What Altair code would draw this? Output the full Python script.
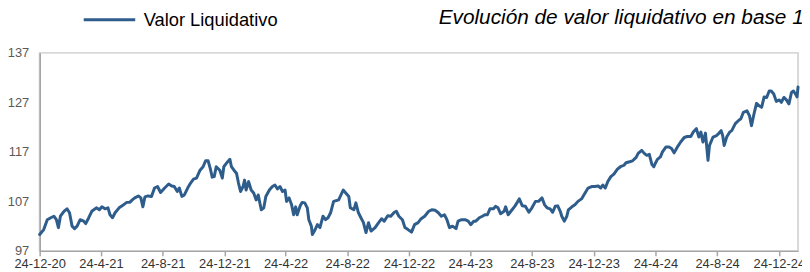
import altair as alt
import pandas as pd

# ---- data ----
dates_2021 = ["2020-12-24","2021-01-01","2021-01-08","2021-01-15","2021-01-21","2021-01-26","2021-01-30","2021-02-03","2021-02-10","2021-02-16",
              "2021-02-21","2021-02-26","2021-03-03","2021-03-08","2021-03-14","2021-03-21","2021-03-25","2021-03-31","2021-04-06","2021-04-15",
              "2021-04-21","2021-04-26","2021-05-02","2021-05-08","2021-05-12","2021-05-17","2021-05-22","2021-05-30","2021-06-05","2021-06-14",
              "2021-06-20","2021-06-25","2021-06-30","2021-07-07","2021-07-12","2021-07-16","2021-07-20","2021-07-26","2021-08-02","2021-08-08",
              "2021-08-14","2021-08-20","2021-08-28","2021-09-05","2021-09-11","2021-09-16","2021-09-22","2021-09-26","2021-10-01","2021-10-06",
              "2021-10-13","2021-10-19","2021-10-24","2021-10-30","2021-11-06","2021-11-12","2021-11-17","2021-11-22","2021-11-27","2021-11-30",
              "2021-12-04","2021-12-08","2021-12-15","2021-12-20","2021-12-23","2021-12-28"]
values_2021 = [100.3, 101.3, 103.3, 103.7, 104.0, 103.3, 101.7, 104.0, 105.0, 105.5,
               104.7, 102.0, 101.5, 102.0, 103.3, 103.0, 102.5, 103.7, 105.0, 105.7,
               105.3, 105.9, 105.5, 105.7, 104.3, 103.7, 104.7, 105.7, 106.1, 106.8,
               106.8, 107.3, 107.7, 108.1, 107.7, 105.9, 107.9, 108.1, 108.0, 109.7,
               110.0, 108.8, 109.7, 110.5, 110.1, 110.0, 109.0, 109.7, 108.0, 108.3,
               109.8, 110.8, 111.5, 111.7, 113.3, 114.0, 115.2, 115.2, 113.3, 111.9,
               112.0, 114.0, 113.3, 111.7, 114.0, 114.7]

dates_2022 = ["2022-01-04","2022-01-07","2022-01-12","2022-01-17","2022-01-21","2022-01-25","2022-01-30","2022-02-02","2022-02-05","2022-02-10",
              "2022-02-15","2022-02-20","2022-02-25","2022-03-01","2022-03-07","2022-03-12","2022-03-16","2022-03-23","2022-03-29","2022-04-03",
              "2022-04-08","2022-04-13","2022-04-18","2022-04-23","2022-04-26","2022-05-01","2022-05-06","2022-05-10","2022-05-14","2022-05-17",
              "2022-05-23","2022-05-27","2022-06-01","2022-06-06","2022-06-09","2022-06-14","2022-06-16","2022-06-20","2022-06-26","2022-07-01",
              "2022-07-07","2022-07-12","2022-07-17","2022-07-22","2022-07-28","2022-08-07","2022-08-16","2022-08-21","2022-08-27","2022-08-30",
              "2022-09-06","2022-09-10","2022-09-15","2022-09-20","2022-09-25","2022-09-30","2022-10-05","2022-10-10","2022-10-18","2022-10-25",
              "2022-10-31","2022-11-05","2022-11-12","2022-11-18","2022-11-25","2022-11-29","2022-12-04","2022-12-11","2022-12-16","2022-12-22",
              "2022-12-29"]
values_2022 = [115.5, 114.0, 113.3, 112.7, 110.7, 109.0, 110.0, 111.3, 109.3, 111.0,
               109.3, 108.7, 107.3, 108.3, 105.3, 105.7, 108.0, 109.3, 110.0, 110.3,
               109.5, 110.0, 109.0, 109.3, 107.0, 107.7, 106.3, 104.3, 105.9, 104.3,
               106.1, 106.8, 106.7, 105.7, 103.3, 102.0, 100.3, 101.0, 102.3, 101.7,
               104.0, 103.3, 103.7, 104.7, 107.0, 107.3, 109.3, 108.7, 108.0, 105.7,
               105.3, 106.7, 104.7, 103.7, 102.7, 100.7, 102.7, 101.0, 101.7, 102.7,
               103.5, 103.0, 104.1, 104.0, 104.8, 105.0, 104.0, 103.3, 101.7, 101.3,
               100.8]

dates_2023 = ["2023-01-04","2023-01-11","2023-01-17","2023-01-24","2023-02-01","2023-02-07","2023-02-14","2023-02-20","2023-02-26","2023-03-04",
              "2023-03-09","2023-03-14","2023-03-20","2023-03-27","2023-03-31","2023-04-07","2023-04-14","2023-04-20","2023-04-25","2023-05-01",
              "2023-05-05","2023-05-12","2023-05-18","2023-05-23","2023-05-28","2023-06-02","2023-06-09","2023-06-13","2023-06-18","2023-06-23",
              "2023-06-30","2023-07-03","2023-07-08","2023-07-15","2023-07-21","2023-07-26","2023-07-30","2023-08-05","2023-08-11","2023-08-18",
              "2023-08-24","2023-08-31","2023-09-06","2023-09-13","2023-09-18","2023-09-23","2023-09-29","2023-10-04","2023-10-09","2023-10-14",
              "2023-10-19","2023-10-22","2023-10-27","2023-11-01","2023-11-04","2023-11-11","2023-11-17","2023-11-23","2023-11-30","2023-12-07",
              "2023-12-13","2023-12-20","2023-12-26"]
values_2023 = [102.3, 102.7, 103.5, 104.0, 105.0, 105.3, 105.2, 104.7, 104.0, 104.3,
               103.3, 101.7, 102.0, 101.5, 103.0, 103.3, 103.3, 103.0, 102.3, 103.0,
               103.0, 103.7, 104.0, 104.3, 104.3, 105.5, 105.5, 106.0, 105.7, 104.5,
               105.0, 105.9, 104.3, 105.2, 106.0, 106.8, 107.5, 106.1, 106.0, 104.8,
               105.7, 107.0, 107.0, 107.7, 106.3, 105.7, 105.5, 104.8, 106.0, 106.1,
               105.0, 104.0, 103.0, 104.0, 105.3, 105.9, 106.3, 107.0, 107.5, 108.7,
               109.7, 110.0, 110.0]

dates_2024 = ["2024-01-02","2024-01-07","2024-01-11","2024-01-16","2024-01-21","2024-01-27","2024-02-02","2024-02-09","2024-02-15","2024-02-22",
              "2024-02-26","2024-03-04","2024-03-10","2024-03-17","2024-03-21","2024-03-28","2024-04-02","2024-04-07","2024-04-12","2024-04-17",
              "2024-04-21","2024-04-24","2024-04-28","2024-05-04","2024-05-08","2024-05-15","2024-05-21","2024-05-26","2024-05-31","2024-06-06",
              "2024-06-13","2024-06-20","2024-06-26","2024-07-03","2024-07-08","2024-07-14","2024-07-19","2024-07-23","2024-07-27","2024-08-01",
              "2024-08-06","2024-08-09","2024-08-16","2024-08-23","2024-08-27","2024-09-01","2024-09-04","2024-09-07","2024-09-12","2024-09-18",
              "2024-09-22","2024-09-29","2024-10-05","2024-10-10","2024-10-15","2024-10-22","2024-10-27","2024-10-31","2024-11-05","2024-11-10",
              "2024-11-15","2024-11-20","2024-11-25","2024-11-30","2024-12-05","2024-12-09","2024-12-14","2024-12-19","2024-12-25","2024-12-29"]
values_2024 = [110.1, 109.7, 110.3, 109.7, 111.0, 112.0, 112.5, 113.5, 114.0, 114.3,
               114.8, 115.0, 115.2, 115.9, 116.7, 117.3, 116.7, 116.3, 116.5, 114.5,
               114.0, 114.7, 115.5, 116.0, 117.0, 118.0, 118.0, 117.7, 116.8, 117.9,
               119.0, 119.9, 120.1, 120.1, 121.0, 121.7, 120.0, 121.0, 119.0, 120.8,
               115.3, 118.3, 120.0, 120.3, 120.7, 121.3, 120.3, 118.3, 120.0, 121.0,
               121.3, 122.7, 123.3, 123.7, 125.0, 125.3, 124.3, 122.3, 124.7, 126.8,
               126.3, 126.0, 128.1, 128.0, 129.3, 129.3, 128.7, 127.2, 127.5, 127.0]

dates_2025 = ["2025-01-03","2025-01-08","2025-01-13","2025-01-18","2025-01-22","2025-01-26","2025-01-29","2025-01-31"]
values_2025 = [128.0, 127.5, 126.7, 129.0, 129.3, 128.7, 128.1, 130.1]

series_name = "Valor Liquidativo"
title_text = "Evolución de valor liquidativo en base 100"
y_ticks = [97, 107, 117, 127, 137]
x_tick_months = [(2020, 12), (2021, 4), (2021, 8), (2021, 12), (2022, 4), (2022, 8), (2022, 12),
                 (2023, 4), (2023, 8), (2023, 12), (2024, 4), (2024, 8), (2024, 12)]

dates = dates_2021 + dates_2022 + dates_2023 + dates_2024 + dates_2025
values = values_2021 + values_2022 + values_2023 + values_2024 + values_2025
assert len(dates) == len(values), (len(dates), len(values))

df = pd.DataFrame({"fecha": dates, "valor": values, "serie": series_name})

FONT = "Liberation Sans"
LINE = "#2E5D8C"

x_vals = [alt.DateTime(year=y, month=m, date=24, utc=True) for (y, m) in x_tick_months]

chart = alt.Chart(df).mark_line(strokeWidth=3, strokeJoin="round", strokeCap="round").encode(
    x=alt.X("fecha:T",
            scale=alt.Scale(type="utc",
                            domain=[alt.DateTime(year=2020, month=12, date=24, utc=True),
                                    alt.DateTime(year=2025, month=1, date=31, utc=True)]),
            axis=alt.Axis(values=x_vals, format="%-d-%-m-%y", title=None, grid=False,
                          domainColor="#A6A6A6", domainWidth=1.5, tickColor="#A6A6A6",
                          tickWidth=1.5, tickSize=5, labelFontSize=13, labelFont=FONT,
                          labelColor="#333333", labelPadding=2, labelFlush=False,
                          labelOverlap=False)),
    y=alt.Y("valor:Q",
            scale=alt.Scale(domain=[97, 137], nice=False, zero=False),
            axis=alt.Axis(values=y_ticks, title=None, grid=False, ticks=False,
                          domainColor="#A0A0A0", domainWidth=1.5, labelPadding=11,
                          labelFontSize=13, labelFont=FONT, labelColor="#595959")),
    color=alt.Color("serie:N", scale=alt.Scale(range=[LINE]),
                    legend=alt.Legend(title=None, orient="none", legendX=43, legendY=-61,
                                      padding=0, symbolType="stroke", symbolSize=2704,
                                      symbolStrokeWidth=3, symbolStrokeColor=LINE,
                                      labelFontSize=18.5, labelFont=FONT, labelOffset=7,
                                      labelColor="#000000")),
).properties(
    width=766,
    height=200,
    autosize=alt.AutoSizeParams(type="none"),
    padding={"left": 32, "top": 44, "right": 4, "bottom": 20},
    title=alt.Title(title_text, anchor="start", frame="group", dx=403, dy=21, offset=-32,
                    fontStyle="italic", fontWeight="normal", fontSize=21, font=FONT,
                    color="#000000", baseline="alphabetic"),
).configure_view(
    stroke="#D9D9D9", strokeWidth=2
)

chart.save("out.html", embed_options={"renderer": "svg", "actions": False})
